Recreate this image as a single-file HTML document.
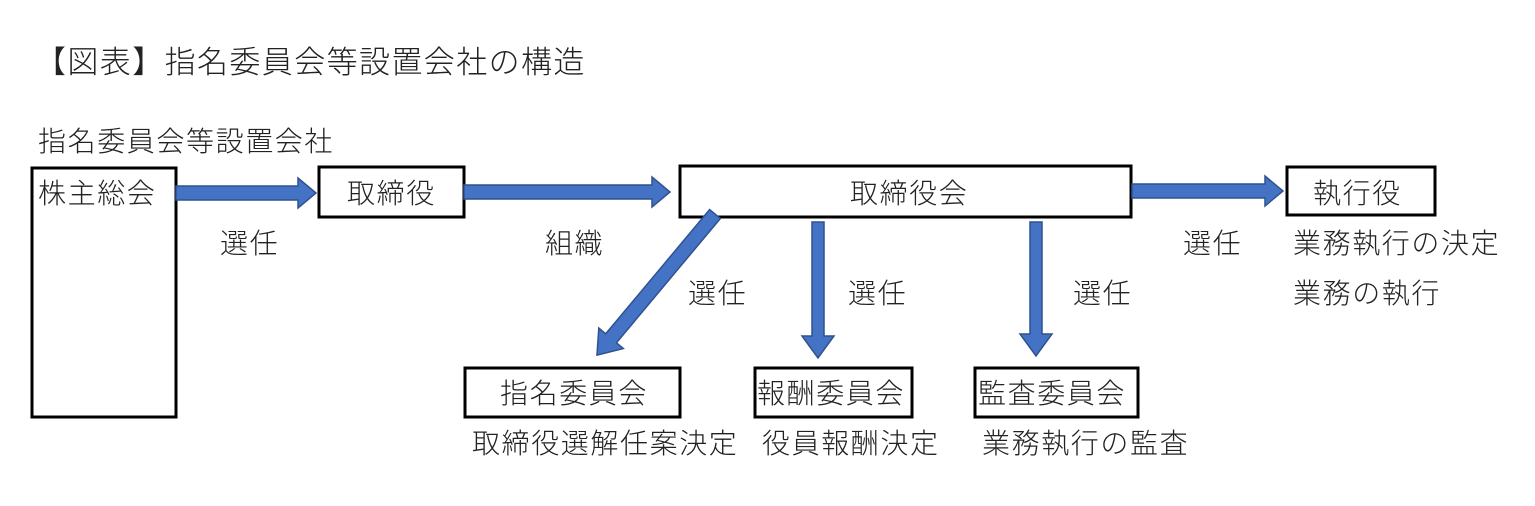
<!DOCTYPE html>
<html><head><meta charset="utf-8"><style>
html,body{margin:0;padding:0;background:#fff;}
svg{display:block;}
text{font-family:"Liberation Sans","Noto Sans CJK JP",sans-serif;fill:#222;font-weight:300;}
</style></head><body>
<svg width="1535" height="506" viewBox="0 0 1535 506" xmlns="http://www.w3.org/2000/svg">
<text x="35" y="73" font-size="31" letter-spacing="1.4">【図表】指名委員会等設置会社の構造</text>
<g font-size="28" letter-spacing="1.6">
<text x="38" y="151">指名委員会等設置会社</text>
</g>
<g fill="none" stroke="#000" stroke-width="3">
<rect x="32" y="168" width="144" height="249"/>
<rect x="319" y="167" width="145" height="50"/>
<rect x="680" y="166" width="451" height="51"/>
<rect x="1287" y="167" width="148" height="48"/>
<rect x="465" y="368" width="215" height="49"/>
<rect x="755" y="368" width="157" height="49"/>
<rect x="975" y="368" width="163" height="49"/>
</g>
<g fill="#4472C4" stroke="#2F528F" stroke-width="1.5">
<polygon points="176,186 298,186 298,178 316,193 298,208 298,200 176,200"/>
<polygon points="464,185 652,185 652,177 670,192 652,207 652,199 464,199"/>
<polygon points="1132,184 1265,184 1265,176 1283,191 1265,206 1265,198 1132,198"/>
<polygon points="812,222 824,222 824,336 834,336 818,358 802,336 812,336"/>
<polygon points="1030,222 1042,222 1042,334 1052,334 1036,356 1020,334 1030,334"/>
<g transform="translate(715,214) rotate(129.9)">
<polygon points="0,-7 162,-7 162,-16 184,0 162,16 162,7 0,7"/>
</g>
</g>
<g font-size="28" letter-spacing="1.6">
<text x="38" y="203">株主総会</text>
<text x="347" y="203">取締役</text>
<text x="850" y="203">取締役会</text>
<text x="1313" y="203">執行役</text>
<text x="220" y="253">選任</text>
<text x="545" y="253">組織</text>
<text x="1183" y="253">選任</text>
<text x="1293" y="253">業務執行の決定</text>
<text x="1293" y="303">業務の執行</text>
<text x="688" y="303">選任</text>
<text x="848" y="303">選任</text>
<text x="1073" y="303">選任</text>
<text x="500" y="403">指名委員会</text>
<text x="757" y="403">報酬委員会</text>
<text x="978" y="403">監査委員会</text>
<text x="472" y="453">取締役選解任案決定</text>
<text x="762" y="453">役員報酬決定</text>
<text x="982" y="453">業務執行の監査</text>
</g>
</svg>
</body></html>
